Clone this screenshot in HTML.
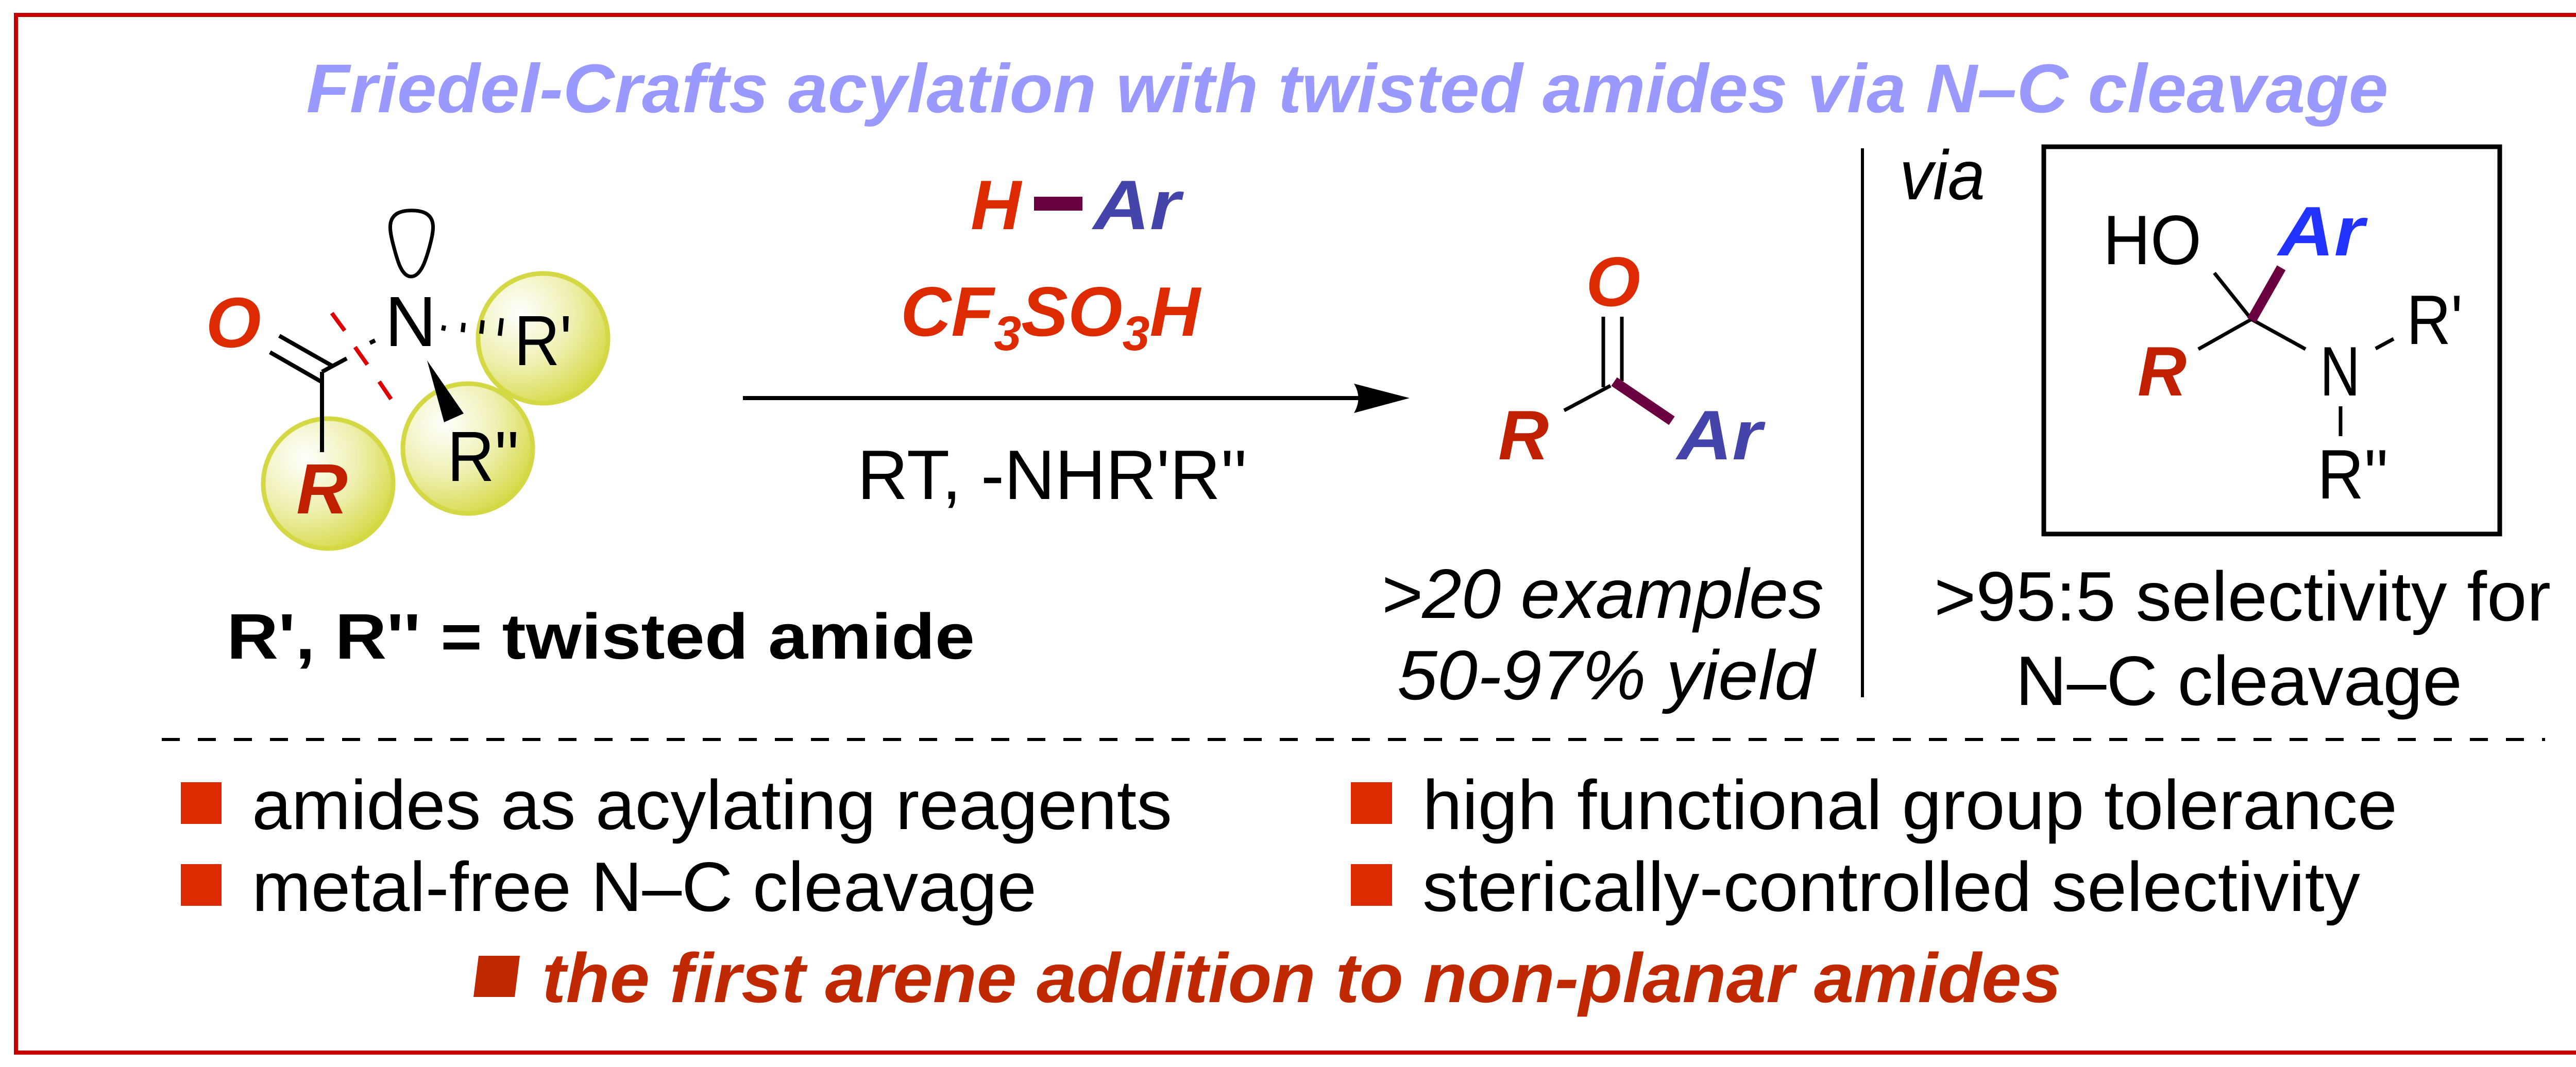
<!DOCTYPE html>
<html><head><meta charset="utf-8"><style>html,body{margin:0;padding:0;background:#fff}svg{display:block}</style></head>
<body>
<svg width="5186" height="2072" viewBox="0 0 5186 2072" xmlns="http://www.w3.org/2000/svg" font-family="Liberation Sans, Arial, sans-serif">
<defs>
<radialGradient id="ball" cx="0.32" cy="0.3" r="0.75">
<stop offset="0" stop-color="#ffffff"/>
<stop offset="0.55" stop-color="#eef0b0"/>
<stop offset="1" stop-color="#d6da4a"/>
</radialGradient>
</defs>
<rect x="0" y="0" width="5186" height="2072" fill="#fff"/>
<rect x="31" y="29" width="5117" height="2015" fill="none" stroke="#c40000" stroke-width="8"/>

<text x="2615" y="218" font-size="134" font-weight="bold" font-style="italic" fill="#9999ff" text-anchor="middle" textLength="4041" lengthAdjust="spacingAndGlyphs">Friedel-Crafts acylation with twisted amides via N–C cleavage</text>

<!-- left molecule -->
<circle cx="637" cy="939" r="126" fill="url(#ball)" stroke="#d4d845" stroke-width="9"/>
<circle cx="1054" cy="657" r="126" fill="url(#ball)" stroke="#d4d845" stroke-width="9"/>
<circle cx="908" cy="871" r="126" fill="url(#ball)" stroke="#d4d845" stroke-width="9"/>
<path d="M798 537 C778 537 770 500 764 478 C756 448 752 425 772 414 C786 407 812 407 826 414 C846 425 842 448 834 478 C828 500 818 537 798 537 Z" fill="none" stroke="#000" stroke-width="7"/>
<text x="797" y="672" font-size="138" text-anchor="middle" fill="#000">N</text>
<g stroke="#000" stroke-width="8">
<line x1="862" y1="632" x2="860" y2="642"/>
<line x1="900" y1="627" x2="898" y2="645"/>
<line x1="937" y1="622" x2="934" y2="648"/>
<line x1="974" y1="618" x2="970" y2="652"/>
<line x1="625" y1="722" x2="625" y2="878"/>
<line x1="625" y1="722" x2="673" y2="696"/>
<line x1="625" y1="742" x2="524" y2="684"/>
<line x1="644" y1="710" x2="542" y2="652"/>
<line x1="718" y1="666" x2="728" y2="661"/>
</g>
<g stroke="#dd0000" stroke-width="8">
<line x1="644" y1="608" x2="669" y2="642"/>
<line x1="689" y1="674" x2="713" y2="708"/>
<line x1="736" y1="741" x2="759" y2="775"/>
</g>
<polygon points="829,700 862,820 900,803" fill="#000"/>
<text x="453" y="674" font-size="138" font-weight="bold" font-style="italic" fill="#dd2a00" text-anchor="middle">O</text>
<text x="625" y="997" font-size="138" font-weight="bold" font-style="italic" fill="#c02000" text-anchor="middle">R</text>
<text x="998" y="709" font-size="138" fill="#000" textLength="112" lengthAdjust="spacingAndGlyphs">R'</text>
<text x="868" y="934" font-size="138" fill="#000" textLength="140" lengthAdjust="spacingAndGlyphs">R''</text>
<text x="440" y="1279" font-size="125" font-weight="bold" fill="#000" textLength="1452" lengthAdjust="spacingAndGlyphs">R', R'' = twisted amide</text>

<!-- reagents -->
<text x="1884" y="445" font-size="136" font-weight="bold" font-style="italic" fill="#dd2a00" textLength="98" lengthAdjust="spacingAndGlyphs">H</text>
<rect x="2007" y="382" width="94" height="27" fill="#6b0040"/>
<text x="2122" y="445" font-size="136" font-weight="bold" font-style="italic" fill="#4444aa" textLength="169" lengthAdjust="spacingAndGlyphs">Ar</text>
<text x="1748" y="652" font-size="136" font-weight="bold" font-style="italic" fill="#dd2a00">CF<tspan font-size="95" dy="28">3</tspan><tspan dy="-28">SO</tspan><tspan font-size="95" dy="28">3</tspan><tspan dy="-28">H</tspan></text>
<line x1="1442" y1="773" x2="2660" y2="773" stroke="#000" stroke-width="8"/>
<path d="M2736 773 L2628 745 Q2645 773 2628 802 Z" fill="#000"/>
<text x="1664" y="969" font-size="136" fill="#000" textLength="757" lengthAdjust="spacingAndGlyphs">RT, -NHR'R''</text>

<!-- product -->
<text x="3131" y="594" font-size="136" font-weight="bold" font-style="italic" fill="#dd2a00" text-anchor="middle">O</text>
<g stroke="#000" stroke-width="7">
<line x1="3112" y1="615" x2="3112" y2="752"/>
<line x1="3148" y1="615" x2="3148" y2="740"/>
<line x1="3036" y1="797" x2="3126" y2="749"/>
</g>
<line x1="3133" y1="741" x2="3245" y2="817" stroke="#6b0040" stroke-width="20"/>
<text x="2908" y="892" font-size="136" font-weight="bold" font-style="italic" fill="#c02000" textLength="98" lengthAdjust="spacingAndGlyphs">R</text>
<text x="3255" y="892" font-size="136" font-weight="bold" font-style="italic" fill="#4444aa" textLength="165" lengthAdjust="spacingAndGlyphs">Ar</text>
<text x="2680" y="1200" font-size="136" font-style="italic" fill="#000" textLength="860" lengthAdjust="spacingAndGlyphs">&gt;20 examples</text>
<text x="2712" y="1358" font-size="136" font-style="italic" fill="#000" textLength="810" lengthAdjust="spacingAndGlyphs">50-97% yield</text>

<line x1="3615" y1="288" x2="3615" y2="1354" stroke="#000" stroke-width="6"/>
<text x="3687" y="387" font-size="136" font-style="italic" fill="#000" textLength="166" lengthAdjust="spacingAndGlyphs">via</text>

<!-- intermediate box -->
<rect x="3967" y="285" width="885" height="752" fill="none" stroke="#000" stroke-width="9"/>
<text x="4082" y="513" font-size="136" fill="#000" textLength="191" lengthAdjust="spacingAndGlyphs">HO</text>
<text x="4422" y="496" font-size="136" font-weight="bold" font-style="italic" fill="#2233ff" textLength="167" lengthAdjust="spacingAndGlyphs">Ar</text>
<g stroke="#000" stroke-width="7">
<line x1="4370" y1="620" x2="4298" y2="530"/>
<line x1="4370" y1="620" x2="4267" y2="678"/>
<line x1="4370" y1="620" x2="4475" y2="678"/>
<line x1="4611" y1="677" x2="4646" y2="658"/>
<line x1="4543" y1="789" x2="4543" y2="847"/>
</g>
<line x1="4370" y1="622" x2="4428" y2="520" stroke="#6b0040" stroke-width="19"/>
<text x="4149" y="768" font-size="136" font-weight="bold" font-style="italic" fill="#c02000" textLength="95" lengthAdjust="spacingAndGlyphs">R</text>
<text x="4503" y="768" font-size="136" fill="#000" textLength="78" lengthAdjust="spacingAndGlyphs">N</text>
<text x="4671" y="668" font-size="136" fill="#000" textLength="109" lengthAdjust="spacingAndGlyphs">R'</text>
<text x="4498" y="968" font-size="136" fill="#000" textLength="138" lengthAdjust="spacingAndGlyphs">R''</text>

<text x="3754" y="1205" font-size="136" fill="#000" textLength="1197" lengthAdjust="spacingAndGlyphs">&gt;95:5 selectivity for</text>
<text x="3912" y="1369" font-size="136" fill="#000" textLength="867" lengthAdjust="spacingAndGlyphs">N–C cleavage</text>

<line x1="314" y1="1436" x2="4940" y2="1436" stroke="#000" stroke-width="6" stroke-dasharray="35 35"/>

<!-- bullets -->
<rect x="351" y="1519" width="79" height="81" fill="#dd2a00"/>
<text x="489" y="1610" font-size="136" fill="#000" textLength="1786" lengthAdjust="spacingAndGlyphs">amides as acylating reagents</text>
<rect x="2622" y="1519" width="80" height="81" fill="#dd2a00"/>
<text x="2761" y="1610" font-size="136" fill="#000" textLength="1892" lengthAdjust="spacingAndGlyphs">high functional group tolerance</text>
<rect x="351" y="1678" width="79" height="81" fill="#dd2a00"/>
<text x="489" y="1769" font-size="136" fill="#000" textLength="1523" lengthAdjust="spacingAndGlyphs">metal-free N–C cleavage</text>
<rect x="2622" y="1678" width="80" height="81" fill="#dd2a00"/>
<text x="2761" y="1769" font-size="136" fill="#000" textLength="1820" lengthAdjust="spacingAndGlyphs">sterically-controlled selectivity</text>
<polygon points="929,1856 1009,1856 999,1936 919,1936" fill="#c02800"/>
<text x="1052" y="1946" font-size="136" font-weight="bold" font-style="italic" fill="#c02800" textLength="2949" lengthAdjust="spacingAndGlyphs">the first arene addition to non-planar amides</text>
</svg>
</body></html>
